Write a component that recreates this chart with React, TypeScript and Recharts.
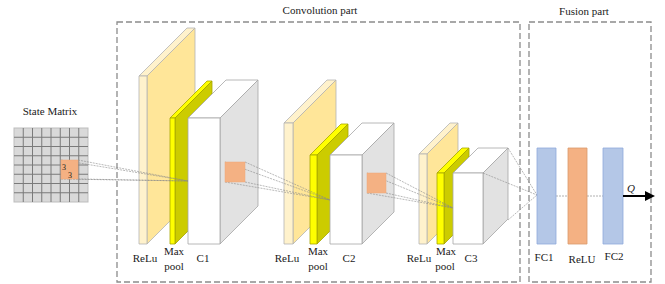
import React from "react";
import { ComposedChart, XAxis, YAxis, Scatter } from "recharts";

const W = 665;
const H = 284;
// chart domain is in diagram units, 1 unit = 1px here
const K = 1;

const FONT = "'Liberation Serif', 'Times New Roman', serif";

const COLORS: Record<string, { front: string; side: string; top: string; stroke: string }> = {
  relu: { front: "#fff2cc", side: "#ffe699", top: "#fff2cc", stroke: "#b4b4b4" },
  pool: { front: "#ffff00", side: "#cccc00", top: "#ffff00", stroke: "#a6a600" },
  conv: { front: "#ffffff", side: "#e2e2e2", top: "#ffffff", stroke: "#a6a6a6" },
  fc: { front: "#b4c7e7", side: "#b4c7e7", top: "#b4c7e7", stroke: "#8faadc" },
  fcRelu: { front: "#f4b183", side: "#f4b183", top: "#f4b183", stroke: "#d99a6c" },
};

// 3D layer blocks: front face top-left, width, height, depth
const BLOCKS = [
  { kind: "relu", x: 139, y: 76, w: 8, h: 168, d: 48 },
  { kind: "pool", x: 170, y: 118, w: 5, h: 126, d: 37 },
  { kind: "conv", x: 188, y: 118, w: 32, h: 126, d: 38 },
  { kind: "relu", x: 284, y: 123, w: 9, h: 121, d: 43 },
  { kind: "pool", x: 310, y: 155, w: 7, h: 89, d: 31 },
  { kind: "conv", x: 330, y: 155, w: 32, h: 89, d: 32 },
  { kind: "relu", x: 419, y: 154, w: 8, h: 90, d: 31 },
  { kind: "pool", x: 437, y: 173, w: 7, h: 71, d: 25 },
  { kind: "conv", x: 453, y: 173, w: 30, h: 71, d: 25 },
];

const FC_LAYERS = [
  { kind: "fc", x: 537, y: 148, w: 19, h: 96, d: 0 },
  { kind: "fcRelu", x: 568, y: 148, w: 19, h: 96, d: 0 },
  { kind: "fc", x: 603, y: 148, w: 20, h: 96, d: 0 },
];

// receptive field squares and where their lines converge
const KERNELS = [
  { x: 61, y: 160, w: 17, h: 19, tx: 188, ty: 181 },
  { x: 225, y: 162, w: 20, h: 20, tx: 330, ty: 200 },
  { x: 367, y: 173, w: 19, h: 20, tx: 453, ty: 208 },
];

const C3_LINES = [
  [508, 148, 537, 195],
  [483, 173, 537, 195],
  [508, 220, 537, 195],
];

const FC_LINKS = [
  [556, 196, 568, 196],
  [587, 196, 603, 196],
];

const GRID = { x: 14, y: 128, size: 74, n: 8 };

const FRAMES = [
  { x: 117, y: 22, w: 403, h: 260 },
  { x: 529, y: 22, w: 122, h: 260 },
];

const LABELS = [
  { t: "Convolution part", x: 320, y: 10, s: 11 },
  { t: "Fusion part", x: 584, y: 11, s: 11 },
  { t: "State Matrix", x: 50, y: 111, s: 11 },
  { t: "ReLu", x: 145, y: 258, s: 11 },
  { t: "Max", x: 174, y: 251, s: 11 },
  { t: "pool", x: 174, y: 266, s: 11 },
  { t: "C1", x: 203, y: 258, s: 11 },
  { t: "ReLu", x: 287, y: 258, s: 11 },
  { t: "Max", x: 318, y: 251, s: 11 },
  { t: "pool", x: 318, y: 266, s: 11 },
  { t: "C2", x: 349, y: 258, s: 11 },
  { t: "ReLu", x: 419, y: 258, s: 11 },
  { t: "Max", x: 446, y: 251, s: 11 },
  { t: "pool", x: 445, y: 266, s: 11 },
  { t: "C3", x: 471, y: 258, s: 11 },
  { t: "FC1", x: 544, y: 257, s: 11 },
  { t: "ReLU", x: 582, y: 259, s: 11 },
  { t: "FC2", x: 614, y: 256, s: 11 },
  { t: "3", x: 64, y: 167, s: 8 },
  { t: "3", x: 70, y: 175, s: 8 },
];

const Q_LABEL = [{ t: "Q", x: 631, y: 188, s: 11 }];
const ARROW = [[623, 196, 646, 196]];
const ARROW_HEAD = [{ x: 655, y: 196 }];

const Empty = () => <g />;

const BlockShape = (p: any) => {
  const { cx, cy, payload: b } = p;
  const c = COLORS[b.kind];
  const w = b.w * K, h = b.h * K, d = b.d * K;
  const x = cx, y = cy;
  return (
    <g stroke={c.stroke} strokeWidth={0.8} strokeLinejoin="round">
      {d > 0 && (
        <>
          <polygon points={`${x},${y} ${x + d},${y - d} ${x + w + d},${y - d} ${x + w},${y}`} fill={c.top} />
          <polygon points={`${x + w},${y} ${x + w + d},${y - d} ${x + w + d},${y + h - d} ${x + w},${y + h}`} fill={c.side} />
        </>
      )}
      <rect x={x} y={y} width={w} height={h} fill={c.front} />
    </g>
  );
};

const GridShape = (p: any) => {
  const { cx, cy, payload: g } = p;
  const size = g.size * K;
  const step = size / g.n;
  const idx = Array.from({ length: g.n + 1 }, (_, i) => i);
  return (
    <g>
      <rect x={cx} y={cy} width={size} height={size} fill="#d9d9d9" stroke="#bdbdbd" strokeWidth={1} />
      {idx.slice(1, -1).map((i) => (
        <g key={i} stroke="#7a7a7a" strokeWidth={1}>
          <line x1={cx + i * step} y1={cy} x2={cx + i * step} y2={cy + size} />
          <line x1={cx} y1={cy + i * step} x2={cx + size} y2={cy + i * step} />
        </g>
      ))}
    </g>
  );
};

const KernelShape = (p: any) => {
  const { cx, cy, payload: k } = p;
  return <rect x={cx} y={cy} width={k.w * K} height={k.h * K} fill="#f4b183" stroke="#f0a878" strokeWidth={0.5} />;
};

const FrameShape = (p: any) => {
  const { cx, cy, payload: f } = p;
  return (
    <rect x={cx} y={cy} width={f.w * K} height={f.h * K} fill="none" stroke="#8c8c8c" strokeWidth={1.3} strokeDasharray="6 3" />
  );
};

const TextShape = (italic: boolean) => (p: any) => {
  const { cx, cy, payload: l } = p;
  return (
    <text x={cx} y={cy} textAnchor="middle" dominantBaseline="central" fontFamily={FONT} fontSize={l.s} fontStyle={italic ? "italic" : "normal"} fill="#1a1a1a">
      {l.t}
    </text>
  );
};

const HeadShape = (p: any) => {
  const { cx, cy } = p;
  return <polygon points={`${cx},${cy} ${cx - 10},${cy - 5} ${cx - 10},${cy + 5}`} fill="#000" />;
};

function segment(key: string, s: number[], style: any) {
  return (
    <Scatter
      key={key}
      data={[{ x: s[0], y: s[1] }, { x: s[2], y: s[3] }]}
      line={style}
      shape={Empty}
      legendType="none"
      isAnimationActive={false}
    />
  );
}

const thin = { stroke: "#8a8a8a", strokeWidth: 0.6, strokeDasharray: "2 1" };

export default function App() {
  const kernelLines: number[][] = [];
  KERNELS.forEach((k) => {
    [[k.x, k.y], [k.x + k.w, k.y], [k.x, k.y + k.h], [k.x + k.w, k.y + k.h]].forEach(([x, y]) => {
      kernelLines.push([x, y, k.tx, k.ty]);
    });
  });

  return (
    <div style={{ position: "absolute", left: 0, top: 0, background: "#fff" }}>
      <ComposedChart width={W} height={H} margin={{ top: 0, right: 0, bottom: 0, left: 0 }}>
        <XAxis type="number" dataKey="x" domain={[0, W]} hide allowDataOverflow />
        <YAxis type="number" dataKey="y" domain={[0, H]} reversed hide allowDataOverflow />

        <Scatter data={FRAMES} shape={FrameShape} legendType="none" isAnimationActive={false} />
        <Scatter data={[GRID]} shape={GridShape} legendType="none" isAnimationActive={false} />
        <Scatter data={BLOCKS} shape={BlockShape} legendType="none" isAnimationActive={false} />

        {kernelLines.map((s, i) => segment(`k${i}`, s, thin))}
        {C3_LINES.map((s, i) => segment(`c${i}`, s, thin))}
        {FC_LINKS.map((s, i) => segment(`f${i}`, s, { stroke: "#b0b0b0", strokeWidth: 1, strokeDasharray: "2 1" }))}

        <Scatter data={KERNELS} shape={KernelShape} legendType="none" isAnimationActive={false} />
        <Scatter data={FC_LAYERS} shape={BlockShape} legendType="none" isAnimationActive={false} />

        {ARROW.map((s, i) => segment(`a${i}`, s, { stroke: "#000", strokeWidth: 2 }))}
        <Scatter data={ARROW_HEAD} shape={HeadShape} legendType="none" isAnimationActive={false} />

        <Scatter data={LABELS} shape={TextShape(false)} legendType="none" isAnimationActive={false} />
        <Scatter data={Q_LABEL} shape={TextShape(true)} legendType="none" isAnimationActive={false} />
      </ComposedChart>
    </div>
  );
}
